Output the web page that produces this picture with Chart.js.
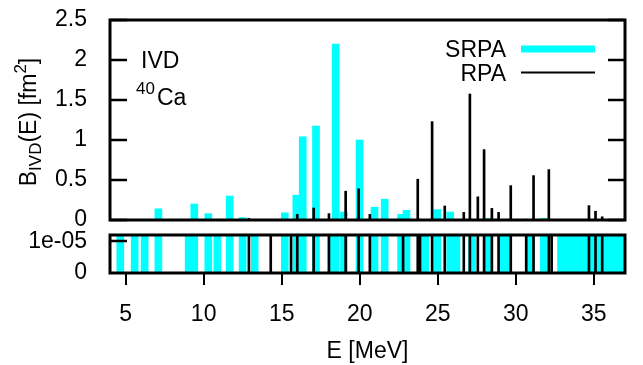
<!DOCTYPE html>
<html>
<head>
<meta charset="utf-8">
<script src="https://cdn.jsdelivr.net/npm/chart.js@4.4.1/dist/chart.umd.min.js"></script>
<style>
  body { margin: 0; background: #fff; }
  #wrap { position: relative; width: 643px; height: 365px; }
  canvas { position: absolute; left: 0; top: 0; }
</style>
</head>
<body>
<div id="wrap">
  <canvas id="topChart" width="643" height="365"></canvas>
  <canvas id="bottomChart" width="643" height="365"></canvas>
</div>
<script>
// SRPA strengths (E in MeV, B in fm^2); tiny values only show in the lower panel
const srpaE = [4.66, 5.58, 6.22, 7.1, 9.04, 9.4, 10.3, 10.88, 11.67, 12.5, 13.27,
  15.2, 15.94, 16.35, 17.2, 18.2, 18.46, 18.99, 19.99, 20.95, 21.6, 22.65, 23.0,
  24.2, 24.97, 25.8, 26.2, 27.2, 28.2, 29.1, 29.4, 30.9, 31.8, 32.9, 33.3, 33.75,
  34.15, 34.45, 34.9, 35.3, 35.8, 36.2, 36.6, 37.0];
const srpaB = [0.004, 0.004, 0.004, 0.14, 0.004, 0.20, 0.08, 0.004, 0.30, 0.03, 0.004,
  0.09, 0.31, 1.04, 1.175, 0.004, 2.2, 0.10, 1.0, 0.16, 0.26, 0.07, 0.12,
  0.004, 0.13, 0.10, 0.004, 0.004, 0.02, 0.004, 0.01, 0.004, 0.02, 0.004, 0.004, 0.004,
  0.004, 0.004, 0.004, 0.004, 0.004, 0.004, 0.004, 0.004];

// RPA strengths
const rpaE = [12.9, 14.3, 15.6, 16.0, 17.05, 18.03, 19.1, 19.93, 20.65, 22.78, 23.72,
  23.87, 24.64, 25.45, 26.67, 27.06, 27.57, 27.97, 28.47, 28.9, 29.68, 30.67, 31.14,
  32.12, 32.3, 34.69, 35.11, 35.54];
const rpaB = [0.02, 0.004, 0.004, 0.07, 0.15, 0.08, 0.36, 0.39, 0.07, 0.01, 0.51,
  0.01, 1.23, 0.175, 0.095, 1.575, 0.29, 0.88, 0.145, 0.095, 0.43, 0.01, 0.555,
  0.63, 0.01, 0.18, 0.11, 0.04];

const xTicks = [5, 10, 15, 20, 25, 30, 35];
const topYTicks = [0, 0.5, 1, 1.5, 2, 2.5];
const bottomYTicks = [0, 1e-5];
const bottomYLabels = ['0', '1e-05'];

const FONT = "'Liberation Sans', Arial, sans-serif";
Chart.defaults.font.family = FONT;
Chart.defaults.font.size = 23;
Chart.defaults.color = '#000';

function makeDatasets() {
  return [
    {
      label: 'SRPA',
      data: srpaE.map((e, i) => ({ x: e, y: srpaB[i] })),
      backgroundColor: '#00ffff',
      barThickness: 7,
      grouped: false,
      order: 2
    },
    {
      label: 'RPA',
      data: rpaE.map((e, i) => ({ x: e, y: rpaB[i] })),
      backgroundColor: '#000000',
      barThickness: 2,
      grouped: false,
      order: 1
    }
  ];
}

// box round the plot and inward ticks
const frame = {
  id: 'frame',
  afterDatasetsDraw(chart, args, opts) {
    const { ctx, chartArea: a } = chart;
    const y = chart.scales.y;
    ctx.save();
    ctx.strokeStyle = '#000';
    ctx.lineWidth = 2.5;
    ctx.beginPath();
    opts.ticks.forEach(v => {
      const py = Math.round(y.getPixelForValue(v));
      ctx.moveTo(a.left, py); ctx.lineTo(a.left + 17, py);
      if (opts.mirror) { ctx.moveTo(a.right, py); ctx.lineTo(a.right - 17, py); }
    });
    ctx.stroke();
    ctx.lineWidth = 3;
    ctx.strokeRect(a.left, a.top, a.right - a.left, a.bottom - a.top);
    ctx.restore();
  }
};

// legend, in-plot labels and the y title with sub/superscripts
const annotations = {
  id: 'annotations',
  afterDraw(chart) {
    const { ctx } = chart;
    const ds = chart.data.datasets;
    ctx.save();
    ctx.fillStyle = '#000';
    ctx.textBaseline = 'alphabetic';

    // legend
    ctx.font = '23px ' + FONT;
    ctx.textAlign = 'right';
    ctx.fillText(ds[0].label, 506, 57);
    ctx.fillText(ds[1].label, 506, 81);
    ctx.strokeStyle = ds[0].backgroundColor;
    ctx.lineWidth = 7;
    ctx.beginPath(); ctx.moveTo(521, 49); ctx.lineTo(595, 49); ctx.stroke();
    ctx.strokeStyle = ds[1].backgroundColor;
    ctx.lineWidth = 2;
    ctx.beginPath(); ctx.moveTo(521, 72.5); ctx.lineTo(595, 72.5); ctx.stroke();

    // IVD / 40Ca
    ctx.textAlign = 'left';
    ctx.fillText('IVD', 141, 68);
    ctx.font = '17px ' + FONT;
    ctx.fillText('40', 136, 94);
    ctx.font = '23px ' + FONT;
    ctx.fillText('Ca', 157, 105);

    // y title
    const parts = [
      { t: 'B', s: 23, dy: 0 },
      { t: 'IVD', s: 17, dy: 5 },
      { t: '(E) [fm', s: 23, dy: 0 },
      { t: '2', s: 17, dy: -10 },
      { t: ']', s: 23, dy: 0 }
    ];
    let total = 0;
    parts.forEach(p => { ctx.font = p.s + 'px ' + FONT; p.w = ctx.measureText(p.t).width; total += p.w; });
    ctx.translate(36, 122);
    ctx.rotate(-Math.PI / 2);
    let x = -total / 2;
    parts.forEach(p => {
      ctx.font = p.s + 'px ' + FONT;
      ctx.fillText(p.t, x, p.dy);
      x += p.w;
    });
    ctx.restore();
  }
};

const fixY = s => { s.width = 110; s.paddingTop = 0; s.paddingBottom = 0; };

new Chart(document.getElementById('topChart'), {
  type: 'bar',
  data: { datasets: makeDatasets() },
  options: {
    responsive: false,
    animation: false,
    layout: { padding: { top: 20, right: 18, bottom: 145, left: 0 } },
    plugins: {
      legend: { display: false },
      tooltip: { enabled: false },
      frame: { ticks: topYTicks, mirror: true }
    },
    scales: {
      x: { type: 'linear', min: 4, max: 37, offset: false, display: false, grid: { offset: false } },
      y: {
        min: 0, max: 2.5,
        afterBuildTicks: s => { s.ticks = topYTicks.map(v => ({ value: v })); },
        afterFit: fixY,
        ticks: { padding: 15, callback: v => String(v) },
        grid: { display: false },
        border: { display: false }
      }
    }
  },
  plugins: [frame, annotations]
});

new Chart(document.getElementById('bottomChart'), {
  type: 'bar',
  data: { datasets: makeDatasets() },
  options: {
    responsive: false,
    animation: false,
    layout: { padding: { top: 235, right: 18, bottom: 0, left: 0 } },
    plugins: {
      legend: { display: false },
      tooltip: { enabled: false },
      frame: { ticks: [1e-5], mirror: false }
    },
    scales: {
      x: {
        type: 'linear', min: 4, max: 37, offset: false,
        afterBuildTicks: s => { s.ticks = xTicks.map(v => ({ value: v })); },
        afterFit: s => { s.height = 92; s.paddingLeft = 0; s.paddingRight = 0; },
        ticks: { padding: 16, autoSkip: false, maxRotation: 0, callback: v => String(v) },
        grid: { offset: false, drawOnChartArea: false, drawTicks: true, tickLength: 12, color: '#000', lineWidth: 2 },
        border: { display: false },
        title: { display: true, text: 'E [MeV]', padding: { top: 0, bottom: 0 } }
      },
      y: {
        min: 0, max: 1.2e-5,
        afterBuildTicks: s => { s.ticks = bottomYTicks.map(v => ({ value: v })); },
        afterFit: fixY,
        ticks: { padding: 15, callback: (v, i) => bottomYLabels[i] },
        grid: { display: false },
        border: { display: false }
      }
    }
  },
  plugins: [frame]
});
</script>
</body>
</html>
